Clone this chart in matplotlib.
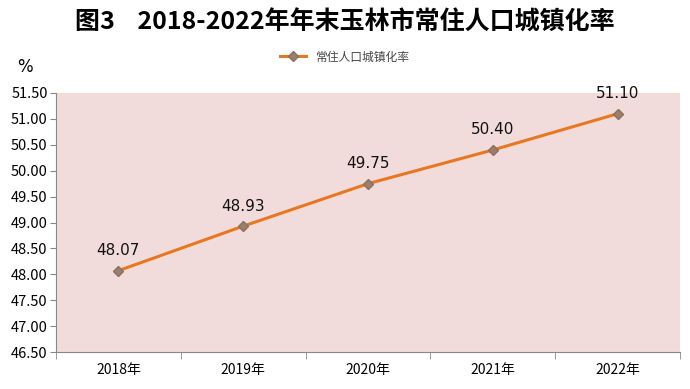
import matplotlib
matplotlib.use("Agg")
import matplotlib.pyplot as plt
from matplotlib.ticker import FixedLocator, NullFormatter
from matplotlib.lines import Line2D

plt.rcParams['font.family'] = ['Noto Sans CJK SC', 'DejaVu Sans']

years = ["2018年", "2019年", "2020年", "2021年", "2022年"]
rates = [48.07, 48.93, 49.75, 50.40, 51.10]
yticks = [46.5, 47.0, 47.5, 48.0, 48.5, 49.0, 49.5, 50.0, 50.5, 51.0, 51.5]
title = "图3    2018-2022年年末玉林市常住人口城镇化率"
series_name = "常住人口城镇化率"

fig = plt.figure(figsize=(6.9, 3.89), dpi=100)
ax = fig.add_axes([56/690, 1-352/389, 624/690, 259/389])
ax.set_facecolor("#F2DCDB")

x = list(range(len(years)))
ax.plot(x, rates, color="#E87722", lw=2.2, marker="D", ms=5.5,
        mfc="#9C7F6A", mec="#8A7060", zorder=3)
for xi, v in zip(x, rates):
    ax.annotate(f"{v:.2f}", (xi, v), xytext=(0, 9), textcoords="offset points",
                ha="center", va="bottom", fontsize=11, family="DejaVu Sans", color="#111111")

ax.set_xlim(-0.5, len(years) - 0.5)
ax.set_ylim(46.5, 51.5)
ax.set_yticks(yticks)
ax.set_yticklabels([f"{t:.2f}" for t in yticks], fontsize=10.5)
ax.set_xticks(x)
ax.set_xticklabels(years, fontsize=10)
ax.tick_params(axis="x", which="major", length=0, pad=8)
ax.xaxis.set_minor_locator(FixedLocator([i + 0.5 for i in range(-1, len(years))]))
ax.xaxis.set_minor_formatter(NullFormatter())
ax.tick_params(axis="x", which="minor", length=5, color="#888888")
ax.tick_params(axis="y", length=4, color="#888888", pad=2)

for s in ["top", "right"]:
    ax.spines[s].set_visible(False)
ax.spines["left"].set_color("#888888")
ax.spines["bottom"].set_color("#888888")

fig.text(345/690, 1-23/389, title, ha="center", va="center", fontsize=18, fontweight="bold")
fig.text(25/690, 1-67/389, "%", ha="center", va="center", fontsize=12, family="DejaVu Sans")

handle = Line2D([], [], color="#E87722", lw=2.2, marker="D", ms=5, mfc="#9C7F6A", mec="#8A7060")
fig.legend([handle], [series_name], loc="center", bbox_to_anchor=(345/690, 1-57/389),
           frameon=False, fontsize=8.5, handlelength=2.2, labelcolor="#444444")

fig.savefig("out.png", dpi=100)
